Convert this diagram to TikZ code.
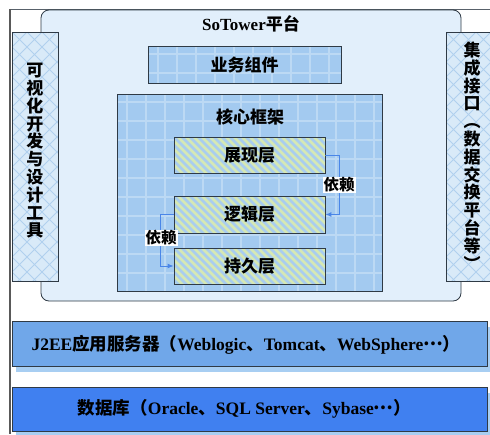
\documentclass[tikz,border=0pt]{standalone}
\usepackage{fontspec}
\setmainfont{Liberation Serif}
\newfontfamily\cjk{Noto Sans CJK SC}
\usetikzlibrary{arrows.meta}
\newcommand{\zh}[1]{{\cjk #1}}
\newcommand{\midell}{\raisebox{0.32em}{\zh{…}}}
\definecolor{cPlat}{HTML}{E2EFFB}
\definecolor{cBlue}{HTML}{A3CAF0}
\definecolor{cGrid}{HTML}{BCD9F4}
\definecolor{cSide}{HTML}{D9EAF8}
\definecolor{cLat}{HTML}{B0D0EE}
\definecolor{cGreen}{HTML}{D6E8B4}
\definecolor{cStripe}{HTML}{A9CDEF}
\definecolor{cJee}{HTML}{70A7E9}
\definecolor{cDb}{HTML}{4080F0}
\definecolor{cShadow}{HTML}{A8CEF2}
\definecolor{cBorder}{HTML}{2F3A45}
\definecolor{cArrow}{HTML}{4A86E8}
\tikzset{
  txt/.style={font=\bfseries\fontsize{17}{19}\selectfont},
  bigtxt/.style={font=\bfseries\fontsize{17.5}{19}\selectfont},
  boxbase/.style={draw=cBorder, line width=0.8pt, inner sep=0pt},
  gridbox/.style={boxbase, fill=cBlue, path picture={
    \foreach \i in {0,...,15} {
      \draw[cGrid, line width=1.2pt] ([xshift=\i*19pt+10pt]path picture bounding box.north west) -- ++(0,300);
      \draw[cGrid, line width=1.2pt] ([yshift=-\i*19pt-8pt]path picture bounding box.north west) -- ++(300,0);
    }}},
  latbox/.style={boxbase, fill=cSide, path picture={
    \foreach \i in {-20,...,22} {
      \draw[cLat, line width=0.8pt] ([xshift=\i*15pt]path picture bounding box.north west) -- ++(300,300);
      \draw[cLat, line width=0.8pt] ([xshift=\i*15pt]path picture bounding box.north west) -- ++(-300,300);
    }}},
  stripebox/.style={boxbase, fill=cGreen, path picture={
    \foreach \i in {-8,...,26} {
      \draw[cStripe, line width=2.8pt] ([xshift=\i*8pt]path picture bounding box.north west) -- ++(80,80);
    }}},
  dep/.style={draw=cArrow, line width=1pt, -{Latex[length=6pt,width=5pt]}},
  deplabel/.style={fill=white, inner sep=1pt, font=\bfseries\fontsize{15.5}{17}\selectfont},
  vtext/.style={align=center, font=\bfseries\fontsize{17}{17.8}\selectfont, inner sep=0pt}
}
\begin{document}
\begin{tikzpicture}[x=1pt,y=-1pt]
\useasboundingbox (0,0) rectangle (490,434);
% outer frame
\draw[cBorder!80, line width=0.6pt] (10,9) -- (490,9);
\draw[gray!70!black, line width=1.6pt] (10,9) -- (10,434);
% platform
\node[boxbase, fill=cPlat, rounded corners=8pt, minimum width=420pt, minimum height=291pt] (plat) at (251,155.5) {};
\node[txt] (platt) at (251,24) {SoTower\zh{平台}};
% side boxes
\node[latbox, minimum width=46pt, minimum height=249pt] (left) at (35,156.5) {};
\node[vtext] (leftt) at (35,151) {\zh{可}\\\zh{视}\\\zh{化}\\\zh{开}\\\zh{发}\\\zh{与}\\\zh{设}\\\zh{计}\\\zh{工}\\\zh{具}};
\node[latbox, minimum width=52pt, minimum height=249pt] (right) at (472,156.5) {};
\node[vtext] (rightt) at (472,156) {\zh{集}\\\zh{成}\\\zh{接}\\\zh{口}\\\zh{︵}\\\zh{数}\\\zh{据}\\\zh{交}\\\zh{换}\\\zh{平}\\\zh{台}\\\zh{等}\\\zh{︶}};
% business components
\node[gridbox, minimum width=193pt, minimum height=37pt] (biz) at (244.5,64.5) {};
\node[txt] at (biz) {\zh{业务组件}};
% core framework
\node[gridbox, minimum width=265pt, minimum height=197pt] (core) at (249.5,192.5) {};
\node[txt] (coret) at (250,117) {\zh{核心框架}};
% layers
\node[stripebox, minimum width=151pt, minimum height=36pt] (pres) at (249.5,155) {};
\node[txt] at (pres) {\zh{展现层}};
\node[stripebox, minimum width=151pt, minimum height=37pt] (logic) at (249.5,214.5) {};
\node[txt] at (logic) {\zh{逻辑层}};
\node[stripebox, minimum width=151pt, minimum height=36pt] (pers) at (249.5,266) {};
\node[txt] at (pers) {\zh{持久层}};
% dependencies
\draw[dep] (pres.east) -- ++(14,0) coordinate (r1) |- (logic.east);
\node[deplabel] (dl1) at (339,185) {\zh{依赖}};
\draw[dep] (logic.west) -- ++(-13,0) coordinate (l1) |- (pers.west);
\node[deplabel] (dl2) at (161,238) {\zh{依赖}};
% J2EE
\fill[cShadow] (16,327) rectangle (491,372);
\node[boxbase, fill=cJee, minimum width=475pt, minimum height=45pt] (jee) at (249.5,343.5) {};
\node[bigtxt] at (246,345) {J2EE\zh{应用服务器（}Weblogic\zh{、}Tomcat\zh{、}WebSphere\midell\zh{）}};
% DB
\fill[cShadow] (16,393) rectangle (491,437);
\node[boxbase, fill=cDb, minimum width=475pt, minimum height=44pt] (db) at (249.5,409) {};
\node[bigtxt] at (244.5,409) {\zh{数据库（}Oracle\zh{、}SQL Server\zh{、}Sybase\midell\zh{）}};
\end{tikzpicture}
\end{document}
